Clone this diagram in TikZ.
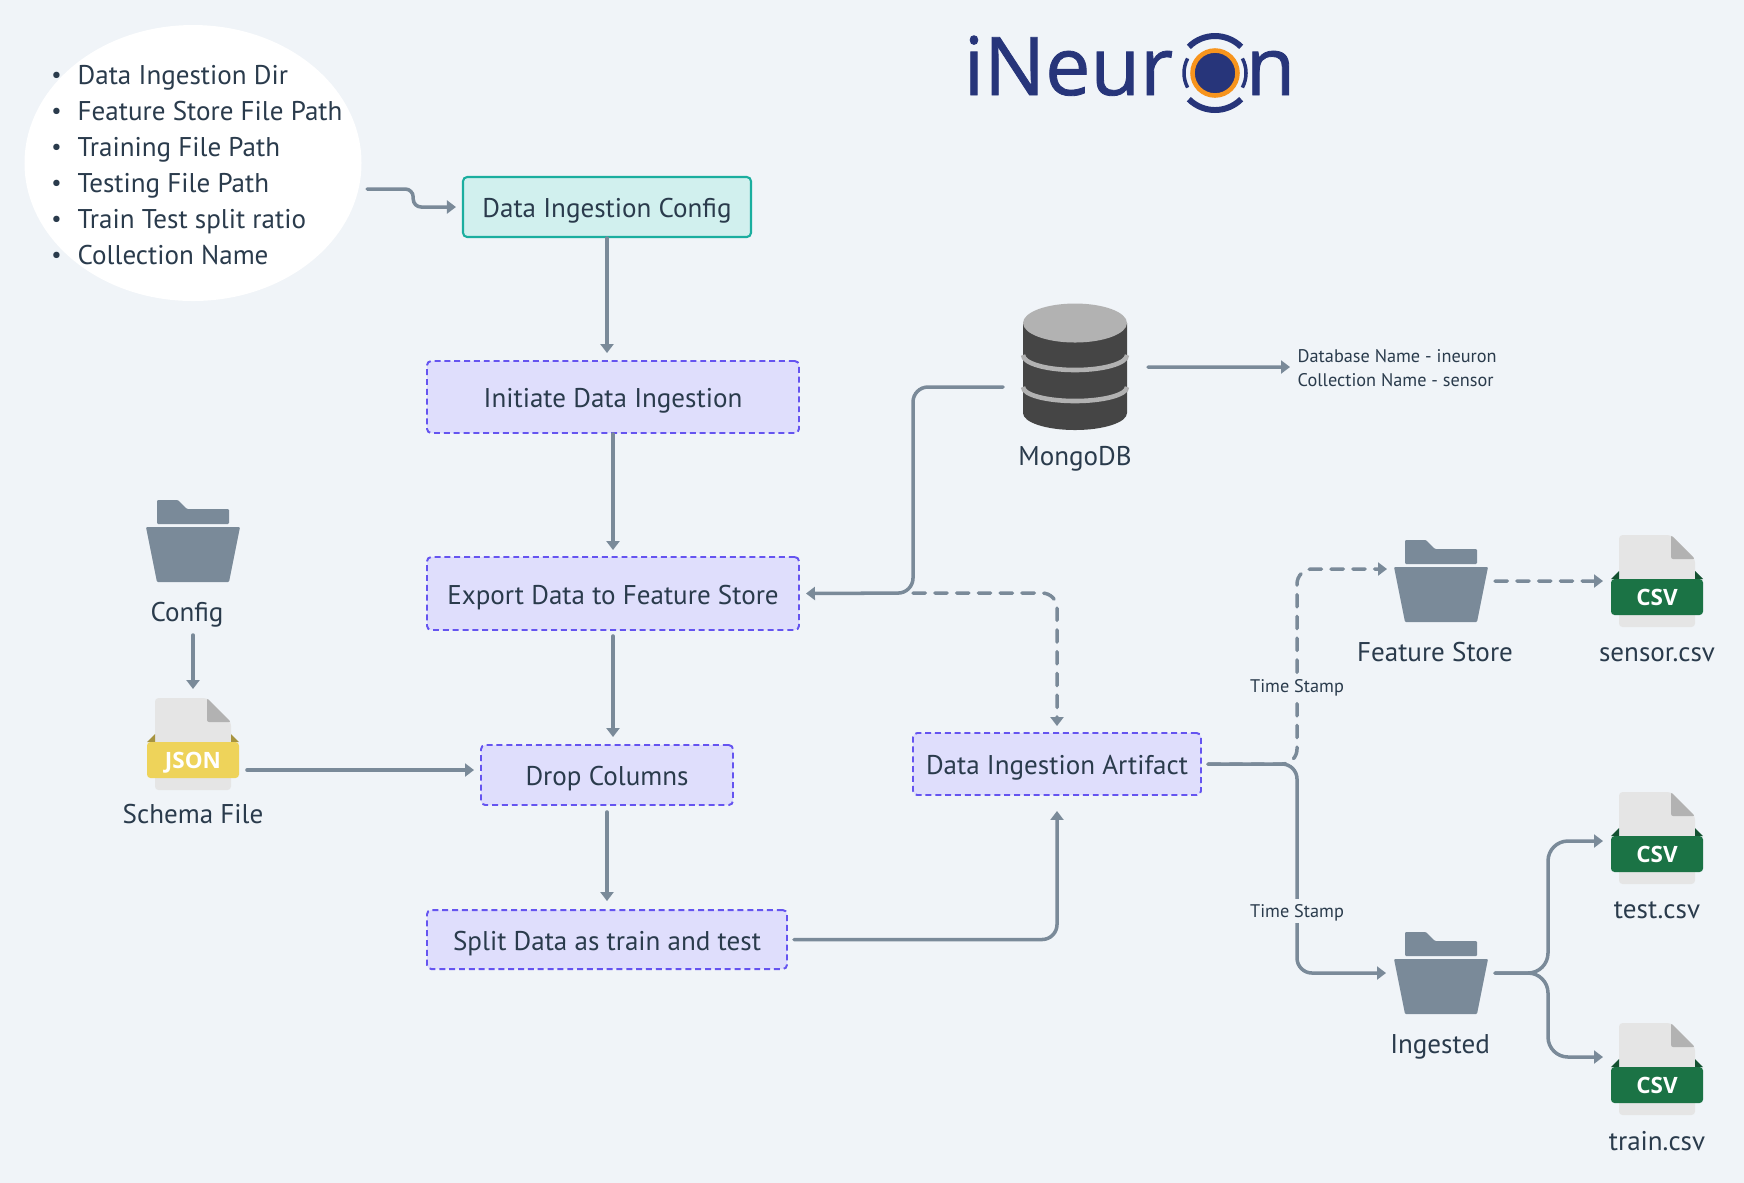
\documentclass[tikz,border=0pt]{standalone}
\usepackage{fontspec}
\setmainfont{PT Sans}
\newfontfamily\logofont[FakeBold=1]{Open Sans}
\newfontfamily\tagfont{Open Sans}
\usetikzlibrary{arrows.meta, calc, shapes.geometric}
\definecolor{pagebg}{HTML}{F0F4F8}
\definecolor{inktext}{HTML}{2A3B4C}
\definecolor{flowline}{HTML}{7A8A99}
\definecolor{stepfill}{HTML}{DFDEFC}
\definecolor{stepdraw}{HTML}{6554F0}
\definecolor{cfgfill}{HTML}{D1F0EE}
\definecolor{cfgdraw}{HTML}{1BAE9F}
\definecolor{logonavy}{HTML}{27357A}
\definecolor{logoorange}{HTML}{F7941D}
\definecolor{jsonband}{HTML}{EED35A}
\definecolor{csvband}{HTML}{1B7345}
\tikzset{
  folder/.pic={
    \fill[flowline, rounded corners=0.3pt] (-0.36,0) -- (-0.15,0) -- (-0.06,-0.09) -- (0.36,-0.09) -- (0.36,-0.24) -- (-0.36,-0.24) -- cycle;
    \fill[flowline, rounded corners=0.3pt] (-0.47,-0.27) -- (0.47,-0.27) -- (0.36,-0.82) -- (-0.36,-0.82) -- cycle;
    \coordinate (-east) at (0.54,-0.41);
    \coordinate (-west) at (-0.47,-0.41);
    \coordinate (-south) at (0,-0.82);
  },
  docfile/.pic={
    \fill[black!10, rounded corners=1pt] (-0.38,0) -- (0.14,0) -- (0.38,-0.24) -- (0.38,-0.92) -- (-0.38,-0.92) -- cycle;
    \fill[black!30, rounded corners=0.6pt] (0.14,0) -- (0.38,-0.24) -- (0.14,-0.24) -- cycle;
    \fill[#1!70!black] (-0.46,-0.44) -- (-0.38,-0.36) -- (-0.38,-0.44) -- cycle;
    \fill[#1!70!black] (0.46,-0.44) -- (0.38,-0.36) -- (0.38,-0.44) -- cycle;
    \fill[#1, rounded corners=1pt] (-0.46,-0.44) rectangle (0.46,-0.80);
    \coordinate (-west) at (-0.54,-0.46);
    \coordinate (-east) at (0.54,-0.46);
    \coordinate (-north) at (0,0);
  },
  database/.pic={
    \fill[black!73] (-0.52,-0.20) -- (-0.52,-1.10) arc[start angle=180, end angle=360, x radius=0.52, y radius=0.17] -- (0.52,-0.20) -- cycle;
    \draw[black!30, line width=1.3pt] (-0.52,-0.52) arc[start angle=180, end angle=360, x radius=0.52, y radius=0.15];
    \draw[black!30, line width=1.3pt] (-0.52,-0.84) arc[start angle=180, end angle=360, x radius=0.52, y radius=0.14];
    \fill[black!30] (0,-0.20) ellipse[x radius=0.52, y radius=0.195];
    \coordinate (-west) at (-0.72,-0.84);
    \coordinate (-east) at (0.73,-0.64);
  }
}
\begin{document}
\begin{tikzpicture}[>={Triangle[length=0.9mm, width=1.3mm]},
  every node/.style={font=\fontsize{7.7}{9}\selectfont, text=inktext, text height=6pt, text depth=0pt},
  flow/.style={->, draw=flowline, line width=1pt, line cap=round, rounded corners=0.15cm},
  dashflow/.style={flow, dash pattern=on 3.5pt off 2.7pt},
  stepbox/.style={draw=stepdraw, fill=stepfill, line width=0.55pt, dash pattern=on 1.7pt off 1.1pt, rounded corners=1.2pt, inner sep=0pt},
  cfgbox/.style={draw=cfgdraw, fill=cfgfill, line width=0.6pt, rounded corners=1.2pt, inner sep=0pt},
  filetag/.style={inner sep=0pt, font=\tagfont\bfseries\fontsize{6.4}{7}\selectfont, text=white, text height=4.7pt},
  stamp/.style={fill=pagebg, font=\fontsize{5.2}{6.5}\selectfont, text height=3.65pt, inner xsep=1pt, inner ysep=1.7pt}]
  \useasboundingbox (0,0) rectangle (17.44,-11.82);
  \fill[pagebg] (-0.1,0.1) rectangle (17.54,-11.92);

  % logo
  \node[anchor=base west, inner sep=0pt, text=logonavy, font=\logofont\fontsize{23}{24}\selectfont, text height=, text depth=] (logoleft) at (9.63,-0.95) {iNeur};
  \node[anchor=base west, inner sep=0pt, text=logonavy, font=\logofont\fontsize{23}{24}\selectfont, text height=, text depth=] (logoright) at (12.45,-0.95) {n};
  \node[circle, fill=logonavy, draw=logoorange, line width=1.3pt, minimum size=0.45cm, inner sep=0pt] (logoring) at (12.15,-0.73) {};
  \draw[logonavy, line width=1.7pt] ($(logoring)+(45:0.37)$) arc[start angle=45, end angle=135, radius=0.37];
  \draw[logonavy, line width=1.7pt] ($(logoring)+(225:0.37)$) arc[start angle=225, end angle=315, radius=0.37];
  \draw[logonavy, line width=1pt] ($(logoring)+(-28:0.31)$) arc[start angle=-28, end angle=28, radius=0.31];
  \draw[logonavy, line width=1pt] ($(logoring)+(152:0.31)$) arc[start angle=152, end angle=208, radius=0.31];

  % parameter list
  \node[ellipse, fill=white, minimum width=3.37cm, minimum height=2.76cm, inner sep=0pt] (paramlist) at (1.93,-1.63) {};
  \foreach \itemtext [count=\i] in {Data Ingestion Dir, Feature Store File Path, Training File Path, Testing File Path, Train Test split ratio, Collection Name}
    \node[anchor=west, inner sep=0pt] (param\i) at (0.77,{-0.74-0.36*(\i-1)}) {\llap{\raisebox{0.6pt}{\fontsize{6.5}{7}\selectfont\textbullet}\hspace{0.16cm}}\itemtext};

  % steps
  \node[cfgbox, minimum width=2.88cm, minimum height=0.60cm] (configbox) at (6.07,-2.07) {Data Ingestion Config};
  \node[stepbox, minimum width=3.72cm, minimum height=0.72cm] (initiatebox) at (6.13,-3.97) {Initiate Data Ingestion};
  \node[stepbox, minimum width=3.72cm, minimum height=0.73cm] (exportbox) at (6.13,-5.935) {Export Data to Feature Store};
  \node[stepbox, minimum width=2.52cm, minimum height=0.60cm] (dropbox) at (6.07,-7.75) {Drop Columns};
  \node[stepbox, minimum width=3.60cm, minimum height=0.59cm] (splitbox) at (6.07,-9.395) {Split Data as train and test};
  \node[stepbox, minimum width=2.88cm, minimum height=0.62cm] (artifactbox) at (10.57,-7.64) {Data Ingestion Artifact};

  % icons
  \pic (configfolder) at (1.93,-5.00) {folder};
  \node (configlabel) at (1.87,-6.105) {Config};
  \pic (schemafile) at (1.93,-6.98) {docfile=jsonband};
  \node[filetag] (schematag) at (1.93,-7.60) {JSON};
  \node (schemalabel) at (1.93,-8.13) {Schema File};
  \pic (mongodb) at (10.75,-3.03) {database};
  \node (mongolabel) at (10.75,-4.55) {MongoDB};
  \node[anchor=west, inner sep=0pt, align=left, font=\fontsize{5.2}{6.8}\selectfont, text height=, text depth=] (dbinfo) at (12.97,-3.68) {Database Name - ineuron\\Collection Name - sensor};
  \pic (featurefolder) at (14.41,-5.40) {folder};
  \node (featurelabel) at (14.35,-6.51) {Feature Store};
  \pic (ingestedfolder) at (14.41,-9.32) {folder};
  \node (ingestedlabel) at (14.40,-10.43) {Ingested};
  \foreach \filename/\filetop/\labely in {sensor/5.35/6.51, test/7.92/9.08, train/10.23/11.40} {
    \pic (\filename file) at (16.57,-\filetop) {docfile=csvband};
    \node[filetag] (\filename tag) at ($(\filename file-north)+(0,-0.62)$) {CSV};
    \node (\filename label) at (16.57,-\labely) {\filename.csv};
  }

  % connectors
  \coordinate (exportjoin) at (9.13,-5.93);
  \coordinate (stampcorner) at (12.97,-7.64);
  \coordinate (schemaout) at ($(schemafile-east)+(0,-0.26)$);
  \coordinate (featurein) at ($(featurefolder-west)+(-0.07,0.12)$);
  \draw[flow, rounded corners=0.08cm, shorten >=0.06cm] ($(paramlist.east)+(0.05,-0.26)$) -- ++(0.46,0) |- (configbox.west);
  \draw[flow, shorten >=0.07cm] (configbox.south) -- (configbox.south |- initiatebox.north);
  \draw[flow, shorten >=0.06cm] (initiatebox.south) -- (initiatebox.south |- exportbox.north);
  \draw[flow, shorten <=0.05cm, shorten >=0.07cm] (exportbox.south) -- (exportbox.south |- dropbox.north);
  \draw[flow, shorten <=0.06cm, shorten >=0.08cm] (dropbox.south) -- (dropbox.south |- splitbox.north);
  \draw[flow, shorten <=0.06cm, shorten >=0.15cm] (splitbox.east) -| (artifactbox.south);
  \draw[flow, shorten >=0.06cm] (mongodb-west) -| (exportjoin) -- (exportbox.east);
  \draw[dashflow, shorten >=0.06cm] (exportjoin) -| (artifactbox.north);
  \draw[flow] (mongodb-east) -- ($(dbinfo.west)+(-0.07,0.01)$);
  \draw[flow, shorten >=0.09cm] ($(configfolder-south)+(0,-0.53)$) -- (schemafile-north);
  \draw[flow, shorten >=0.06cm] (schemaout) -- (schemaout -| dropbox.west);
  \draw[dashflow, shorten <=0.06cm] (artifactbox.east) -| (stampcorner |- featurein) -- (featurein);
  \draw[flow, shorten <=0.06cm] (artifactbox.east) -| (stampcorner |- ingestedfolder-east) -- ($(ingestedfolder-west)+(-0.08,0)$);
  \node[stamp] (stampfeature) at (12.97,-6.86) {Time Stamp};
  \node[stamp] (stampingested) at (12.97,-9.11) {Time Stamp};
  \draw[dashflow] (featurefolder-east) -- (sensorfile-west);
  \draw[flow, rounded corners=0.2cm] (ingestedfolder-east) -- ++(0.53,0) |- ($(testfile-west)+(0,-0.03)$);
  \draw[flow, rounded corners=0.2cm] (ingestedfolder-east) -- ++(0.53,0) |- ($(trainfile-west)+(0,0.12)$);
\end{tikzpicture}
\end{document}
